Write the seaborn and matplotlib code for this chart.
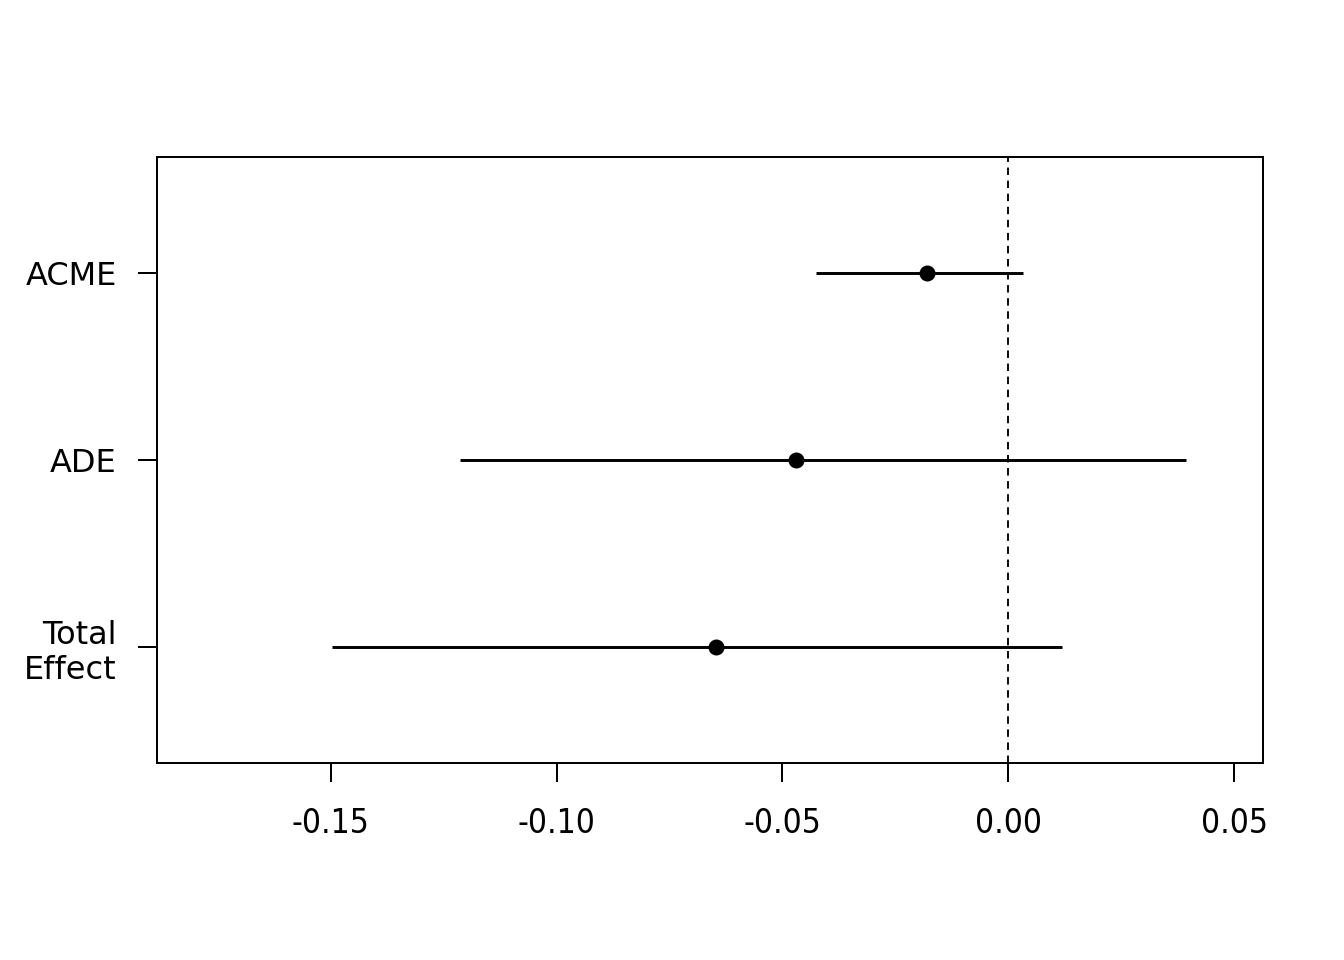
import numpy as np
import pandas as pd
import matplotlib
matplotlib.use("Agg")
import matplotlib.pyplot as plt
import seaborn as sns

# effect estimates with 95% CI
effects = ["ACME", "ADE", "Total\nEffect"]
estimate = [-0.0179, -0.0470, -0.0647]
ci_lower = [-0.0425, -0.1214, -0.1497]
ci_upper = [0.0033, 0.0394, 0.0120]
ypos = [3, 2, 1]
xticks = [-0.15, -0.10, -0.05, 0.00, 0.05]

df = pd.DataFrame({"effect": effects, "estimate": estimate,
                   "lower": ci_lower, "upper": ci_upper, "y": ypos})

sns.set_style("ticks", {"axes.edgecolor": "black", "xtick.color": "black",
                        "ytick.color": "black", "text.color": "black"})
plt.rcParams['font.family'] = ['DejaVu Sans']

fig = plt.figure(figsize=(7, 5), dpi=192)
ax = fig.add_axes([0.1168, 0.2052, 0.8229, 0.6313])

ax.hlines(df["y"], df["lower"], df["upper"], color="black", linewidth=1.1)
sns.scatterplot(data=df, x="estimate", y="y", ax=ax, color="black",
                s=36, edgecolor="black", linewidth=0, zorder=3)
ax.axvline(0, color="black", linestyle=(0, (4, 3)), linewidth=0.7)

ax.set_xlim(-0.1885, 0.0564)
ax.set_ylim(0.38, 3.62)
ax.set_xticks(xticks)
ax.set_xticklabels([f"{t:.2f}" for t in xticks], family='DejaVu Sans',
                   fontstretch='condensed', fontsize=12.5, color="black")
ax.set_yticks(df["y"])
ax.set_yticklabels(df["effect"], fontsize=12, color="black")
ax.set_xlabel("")
ax.set_ylabel("")

for s in ax.spines.values():
    s.set_visible(True)
    s.set_linewidth(0.75)
    s.set_color("black")
ax.tick_params(axis="both", length=7, width=0.75, direction="out", color="black")
ax.tick_params(axis="x", pad=9.5)
ax.tick_params(axis="y", pad=8)

fig.savefig("out.png", dpi=192)
